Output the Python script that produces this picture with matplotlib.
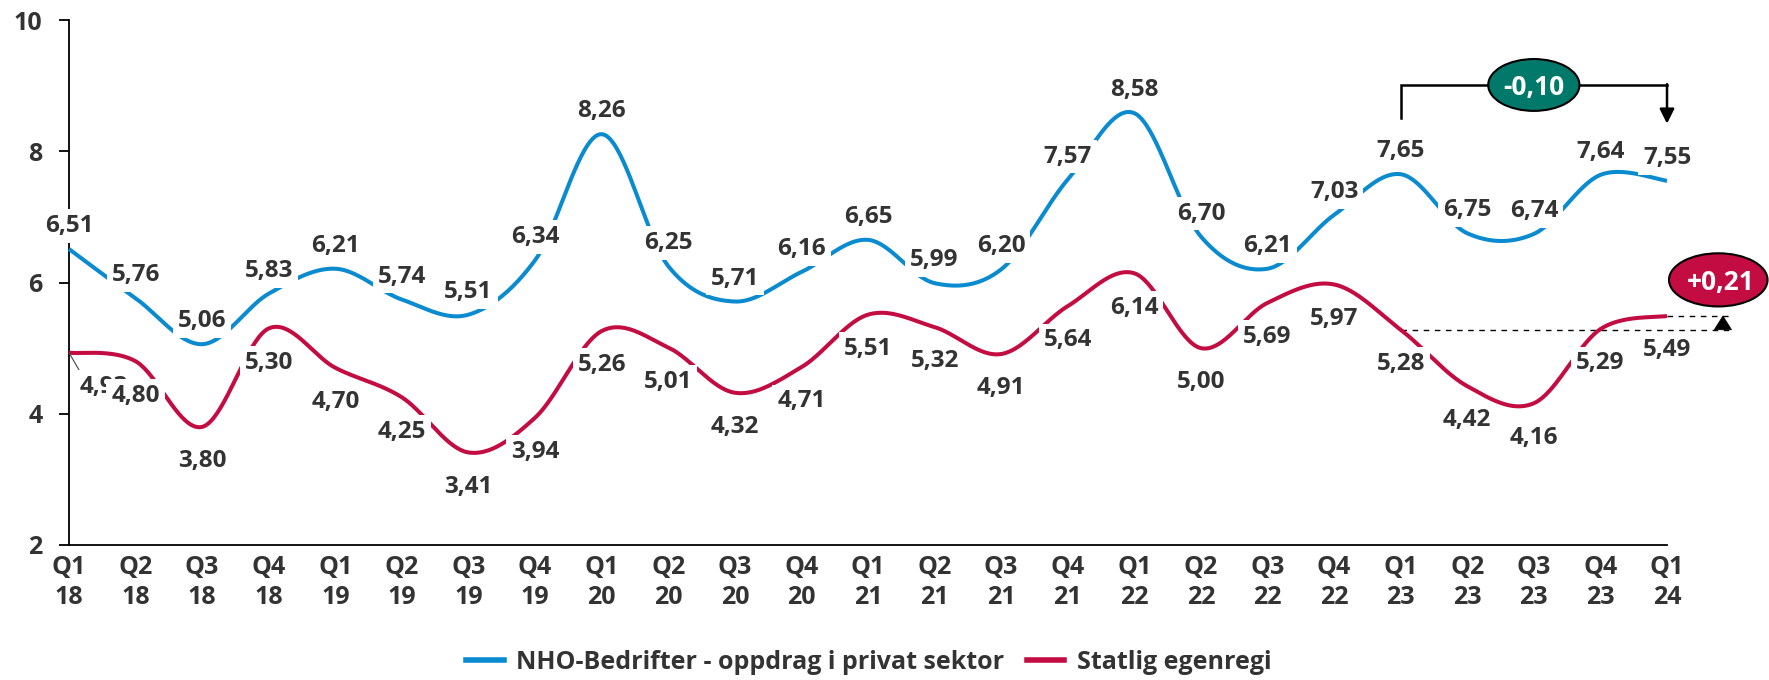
import numpy as np
import matplotlib
matplotlib.use("Agg")
import matplotlib.pyplot as plt
from matplotlib.patches import Ellipse, Polygon
from matplotlib.lines import Line2D

plt.rcParams['font.family'] = ['Open Sans', 'DejaVu Sans']

# ---------------- data ----------------
quarters = ['Q1', 'Q2', 'Q3', 'Q4', 'Q1', 'Q2', 'Q3', 'Q4', 'Q1', 'Q2', 'Q3', 'Q4',
            'Q1', 'Q2', 'Q3', 'Q4', 'Q1', 'Q2', 'Q3', 'Q4', 'Q1', 'Q2', 'Q3', 'Q4', 'Q1']
years = ['18', '18', '18', '18', '19', '19', '19', '19', '20', '20', '20', '20',
         '21', '21', '21', '21', '22', '22', '22', '22', '23', '23', '23', '23', '24']
nho = [6.51, 5.76, 5.06, 5.83, 6.21, 5.74, 5.51, 6.34, 8.26, 6.25, 5.71, 6.16,
       6.65, 5.99, 6.20, 7.57, 8.58, 6.70, 6.21, 7.03, 7.65, 6.75, 6.74, 7.64, 7.55]
statlig = [4.93, 4.80, 3.80, 5.30, 4.70, 4.25, 3.41, 3.94, 5.26, 5.01, 4.32, 4.71,
           5.51, 5.32, 4.91, 5.64, 6.14, 5.00, 5.69, 5.97, 5.28, 4.42, 4.16, 5.29, 5.49]
series_names = ['NHO-Bedrifter - oppdrag i privat sektor', 'Statlig egenregi']
y_ticks = [2, 4, 6, 8, 10]

# ---------------- style ----------------
BLUE = '#0A8BD0'
RED = '#C30C42'
TEAL = '#00796B'
TXT = '#333333'
FS = 17.5
TICK_FS = 18


def fmt(v, sign=False):
    s = f"{v:+.2f}" if sign else f"{v:.2f}"
    return s.replace('.', ',')


def smooth(y, n=40):
    y = np.asarray(y, float)
    x = np.arange(len(y), dtype=float)
    pts = np.column_stack([x, y])
    m = len(pts)
    out = []
    t = np.linspace(0, 1, n)[:, None]
    for i in range(m - 1):
        p0, p3 = pts[i], pts[i + 1]
        pm = pts[max(i - 1, 0)]
        pp = pts[min(i + 2, m - 1)]
        p1 = p0 + (p3 - pm) / 6.0
        p2 = p3 - (pp - p0) / 6.0
        b = (1 - t) ** 3 * p0 + 3 * (1 - t) ** 2 * t * p1 + 3 * (1 - t) * t ** 2 * p2 + t ** 3 * p3
        out.append(b if i == 0 else b[1:])
    c = np.vstack(out)
    return c[:, 0], c[:, 1]


fig = plt.figure(figsize=(17.69, 6.8), dpi=100)
ax = fig.add_axes([69 / 1769, 1 - 545 / 680, (1667 - 69) / 1769, (545 - 20) / 680])

xs = np.arange(len(nho))
bx, by = smooth(nho)
rx, ry = smooth(statlig)
ax.plot(bx, by, color=BLUE, lw=2.9, solid_capstyle='butt', zorder=3, clip_on=False)
ax.plot(rx, ry, color=RED, lw=2.9, solid_capstyle='butt', zorder=3, clip_on=False)

ax.set_xlim(0, len(nho) - 1)
ax.set_ylim(y_ticks[0], y_ticks[-1])
ax.set_yticks(y_ticks)
ax.set_yticklabels([str(v) for v in y_ticks])
ax.set_xticks(xs)
ax.set_xticklabels([f"{q}\n{y}" for q, y in zip(quarters, years)], linespacing=1.3)

for s in ['top', 'right']:
    ax.spines[s].set_visible(False)
for s in ['left', 'bottom']:
    ax.spines[s].set_linewidth(1.3)
    ax.spines[s].set_color('black')
ax.tick_params(axis='y', length=7, width=1.3, direction='out', pad=12,
               labelsize=TICK_FS, labelcolor=TXT)
ax.tick_params(axis='x', length=0, pad=7, labelsize=TICK_FS, labelcolor=TXT)
for lab in ax.get_xticklabels() + ax.get_yticklabels():
    lab.set_fontweight('bold')

bbox = dict(boxstyle='square,pad=0.2', fc='white', ec='none')

# blue labels above
for i, v in enumerate(nho):
    ax.annotate(fmt(v), (i, v), xytext=(0, 12.2), textcoords='offset points',
                ha='center', va='baseline', fontsize=FS, fontweight='bold', color=TXT,
                bbox=bbox, zorder=6, annotation_clip=False)

# red labels below
for i, v in enumerate(statlig):
    if i == 0:
        ax.annotate(fmt(v), (i, v), xytext=(25, -29), textcoords='offset points',
                    ha='center', va='baseline', fontsize=FS, fontweight='bold', color=TXT,
                    bbox=bbox, zorder=6, annotation_clip=False,
                    arrowprops=dict(arrowstyle='-', color='#444444', lw=0.8,
                                    shrinkA=0, shrinkB=0, relpos=(0.05, 1.0)))
    else:
        ax.annotate(fmt(v), (i, v), xytext=(0, -29), textcoords='offset points',
                    ha='center', va='baseline', fontsize=FS, fontweight='bold', color=TXT,
                    bbox=bbox, zorder=6, annotation_clip=False)

# ---------------- change annotations ----------------
i0, i1 = len(nho) - 5, len(nho) - 1
d_blue = nho[i1] - nho[i0]
d_red = statlig[i1] - statlig[i0]

top_y = 9.01
ax.plot([i0, i0, i1], [nho[i0] + 0.86, top_y, top_y], color='black', lw=1.8,
        zorder=7, clip_on=False, solid_joinstyle='miter')
ax.annotate('', xy=(i1, nho[i1] + 0.87), xytext=(i1, top_y + 0.012),
            arrowprops=dict(arrowstyle='-|>', color='black', lw=1.8,
                            mutation_scale=22, shrinkA=0, shrinkB=0),
            zorder=7, annotation_clip=False)
e1 = Ellipse(((i0 + i1) / 2, top_y), 1.37, 0.79, fc=TEAL, ec='black', lw=1.5,
             zorder=8, clip_on=False)
ax.add_patch(e1)
ax.text((i0 + i1) / 2, top_y, fmt(d_blue), ha='center', va='center_baseline',
        fontsize=19, fontweight='bold', color='white', zorder=9)

# red change
ax.plot([i0, 24.98], [statlig[i0], statlig[i0]], color='black', lw=1.0,
        ls=(0, (4, 4)), zorder=2, clip_on=False)
ax.plot([i1, 24.95], [statlig[i1], statlig[i1]], color='black', lw=1.0,
        ls=(0, (4, 4)), zorder=2, clip_on=False)
tx = 24.84
tri = Polygon([[tx - 0.13, statlig[i0]], [tx + 0.13, statlig[i0]], [tx, statlig[i1]]],
              closed=True, fc='black', ec='black', lw=0.5, zorder=7, clip_on=False)
ax.add_patch(tri)
e2 = Ellipse((24.77, 6.04), 1.48, 0.81, fc=RED, ec='black', lw=1.5,
             zorder=8, clip_on=False)
ax.add_patch(e2)
ax.text(24.8, 6.04, fmt(d_red, sign=True), ha='center', va='center_baseline',
        fontsize=19, fontweight='bold', color='white', zorder=9)

# ---------------- legend ----------------
handles = [Line2D([], [], color=BLUE, lw=4), Line2D([], [], color=RED, lw=4)]
fig.legend(handles, series_names, loc='center', bbox_to_anchor=(0.491, 0.026), ncol=2,
           frameon=False, prop=dict(weight='bold', size=18), labelcolor=TXT,
           handlelength=1.5, handletextpad=0.5, columnspacing=0.9)

fig.savefig('out.png', dpi=100)
